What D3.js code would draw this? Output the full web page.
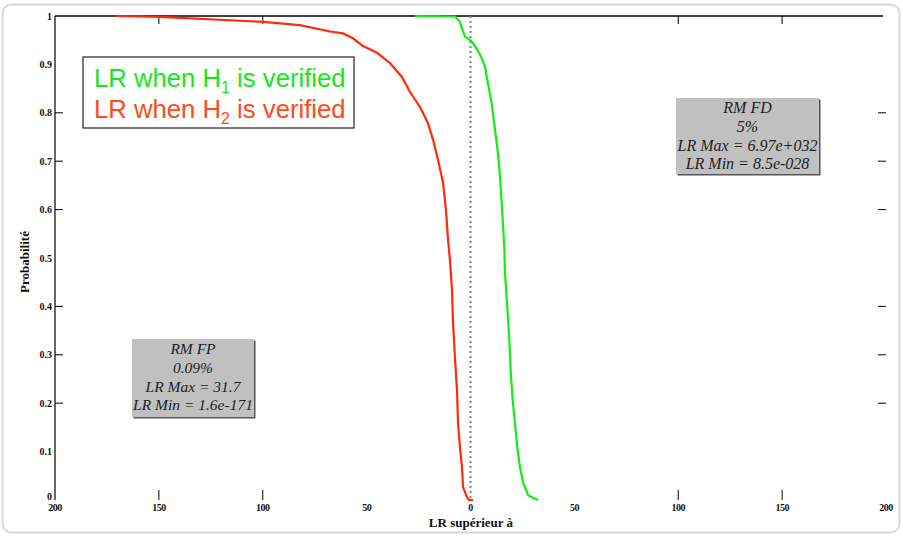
<!DOCTYPE html>
<html><head><meta charset="utf-8">
<script src="https://cdn.jsdelivr.net/npm/d3@7"></script>
<style>body{margin:0;background:#fff}svg{display:block}</style>
</head><body>
<svg id="c" width="903" height="536"></svg>
<script>
// Data (x = LR threshold, y = probability)
const redX = [-170.6,-149.9,-99.9,-82.1,-67.6,-61.4,-56.6,-51.7,-45.0,-38.8,-33.0,-29.1,-24.3,-20.5,-18.0,-15.6,-13.2,-11.8,-10.8,-9.9,-8.9,-8.4,-7.5,-6.5,-6.0,-5.1,-4.1,-3.6,-1.7,-0.7,1.2];
const redY = [1.0,0.998,0.988,0.981,0.968,0.964,0.954,0.938,0.924,0.903,0.874,0.843,0.812,0.779,0.744,0.702,0.655,0.599,0.537,0.496,0.434,0.366,0.295,0.227,0.159,0.110,0.068,0.027,0.006,0,0];
const greenX = [-26.7,-7.5,-5.1,-3.8,-2.6,-0.2,1.3,3.8,5.4,7.0,7.8,9.0,10.2,11.0,11.8,12.6,13.4,14.2,15.0,15.8,16.3,16.6,17.7,18.7,19.4,20.3,21.4,22.5,23.8,25.4,27.8,30.2,32.6];
const greenY = [1.0,0.999,0.988,0.971,0.957,0.950,0.944,0.926,0.913,0.895,0.875,0.847,0.820,0.792,0.764,0.738,0.709,0.668,0.614,0.558,0.517,0.469,0.399,0.331,0.262,0.207,0.159,0.110,0.068,0.035,0.010,0.004,0];
const xTicks = [-200,-150,-100,-50,0,50,100,150,200];
const xTickLabels = ["200","150","100","50","0","50","100","150","200"];
const yTicks = [0,0.1,0.2,0.3,0.4,0.5,0.6,0.7,0.8,0.9,1];
const yTickLabels = ["0","0.1","0.2","0.3","0.4","0.5","0.6","0.7","0.8","0.9","1"];
const yTickMarks = [0.2,0.3,0.4,0.6,0.7,0.8];
const xTickMarks = [-150,-100,100,150];
const legendLines = [["LR when H","1"," is verified"],["LR when H","2"," is verified"]];
const boxFD = ["RM FD","5%","LR Max = 6.97e+032","LR Min = 8.5e-028"];
const boxFP = ["RM FP","0.09%","LR Max = 31.7","LR Min = 1.6e-171"];

const svg = d3.select("#c");
// outer frame
svg.append("rect").attr("x",2.5).attr("y",4.5).attr("width",897).attr("height",528).attr("rx",9)
  .attr("fill","#fff").attr("stroke","#d8d8d8").attr("stroke-width",2);

const x = d3.scaleLinear().domain([-200,200]).range([55,886]);
const y = d3.scaleLinear().domain([0,1]).range([500,16]);
const g = svg.append("g");

// axis lines (top and left)
g.append("line").attr("x1",x(-200)).attr("x2",x(200)-3).attr("y1",y(1)).attr("y2",y(1)).attr("stroke","#000").attr("stroke-width",1.5);
g.append("line").attr("x1",x(-200)).attr("x2",x(-200)).attr("y1",y(1)).attr("y2",y(0)).attr("stroke","#000").attr("stroke-width",1.2);

// tick marks
const tk = g.append("g").attr("stroke","#000").attr("stroke-width",1);
yTickMarks.forEach(v=>{
  tk.append("line").attr("x1",x(-200)).attr("x2",x(-200)+8).attr("y1",y(v)).attr("y2",y(v));
  tk.append("line").attr("x1",x(200)-8).attr("x2",x(200)).attr("y1",y(v)).attr("y2",y(v));
});
xTickMarks.forEach(v=>{
  tk.append("line").attr("x1",x(v)).attr("x2",x(v)).attr("y1",y(0)).attr("y2",y(0)-10);
  tk.append("line").attr("x1",x(v)).attr("x2",x(v)).attr("y1",y(1)).attr("y2",y(1)+8);
});

// tick labels
const lf = "'Liberation Serif','DejaVu Serif',serif";
g.selectAll(".yl").data(yTicks).enter().append("text")
  .attr("x",x(-200)-3).attr("y",d=>y(d)).attr("dy","0.35em").attr("text-anchor","end")
  .attr("font-family",lf).attr("font-weight","bold").attr("font-size",10).attr("fill","#111")
  .attr("transform",(d)=>d===0?"translate(0,-4)":null)
  .text((d,i)=>yTickLabels[i]);
g.selectAll(".xl").data(xTicks).enter().append("text")
  .attr("x",d=>x(d)).attr("y",y(0)+11).attr("text-anchor","middle")
  .attr("font-family",lf).attr("font-weight","bold").attr("font-size",10).attr("fill","#111")
  .attr("letter-spacing","-0.5")
  .text((d,i)=>xTickLabels[i]);

// axis titles
svg.append("text").attr("x",471).attr("y",527).attr("text-anchor","middle")
  .attr("font-family",lf).attr("font-weight","bold").attr("font-size",13).attr("fill","#111").text("LR supérieur à");
svg.append("text").attr("transform","translate(29,262) rotate(-90)").attr("text-anchor","middle")
  .attr("font-family",lf).attr("font-weight","bold").attr("font-size",13).attr("fill","#111").text("Probabilité");

// dotted zero line
g.append("line").attr("x1",x(0)).attr("x2",x(0)).attr("y1",y(1)).attr("y2",y(0))
  .attr("stroke","#808080").attr("stroke-width",2).attr("stroke-dasharray","2,3");

// curves
const line = d3.line().x(d=>x(d[0])).y(d=>y(d[1]));
g.append("path").datum(redX.map((v,i)=>[v,redY[i]])).attr("d",line)
  .attr("fill","none").attr("stroke","#ff2a0a").attr("stroke-width",2.2);
g.append("path").datum(greenX.map((v,i)=>[v,greenY[i]])).attr("d",line)
  .attr("fill","none").attr("stroke","#11ee11").attr("stroke-width",2.2);

// legend
const lg = svg.append("g");
lg.append("rect").attr("x",83).attr("y",57).attr("width",271).attr("height",71)
  .attr("fill","#fff").attr("stroke","#222").attr("stroke-width",1.2);
const lcol = ["#19e619","#ff4c17"];
legendLines.forEach((p,i)=>{
  const t = lg.append("text").attr("x",94).attr("y",87+i*31)
    .attr("font-family","'Liberation Sans',Arial,sans-serif").attr("font-size",25.7).attr("fill",lcol[i]);
  t.append("tspan").text(p[0]);
  t.append("tspan").attr("font-size",16).attr("dy",6).text(p[1]);
  t.append("tspan").attr("dy",-6).text(p[2]);
});

// annotation boxes
function box(x0,y0,w,h,lines,step,fs){
  const b = svg.append("g");
  b.append("rect").attr("x",x0+1.5).attr("y",y0+1.5).attr("width",w).attr("height",h).attr("fill","#555");
  b.append("rect").attr("x",x0).attr("y",y0).attr("width",w).attr("height",h).attr("fill","#c0c0c0");
  lines.forEach((s,i)=>{
    b.append("text").attr("x",x0+w/2).attr("y",y0+15+i*step).attr("text-anchor","middle")
      .attr("font-family",lf).attr("font-style","italic").attr("font-size",fs).attr("fill","#222").text(s);
  });
}
box(676,98,143,76,boxFD,18.8,16);
box(132,339,122,78,boxFP,18.8,15.5);
</script>
</body></html>
